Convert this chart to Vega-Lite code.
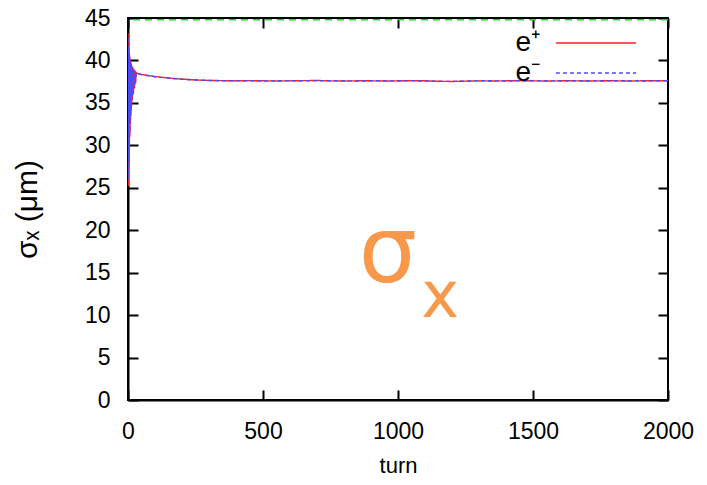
{
  "$schema": "https://vega.github.io/schema/vega-lite/v6.json",
  "width": 540,
  "height": 382,
  "autosize": "none",
  "padding": {"left": 128, "top": 18, "right": 39, "bottom": 85},
  "background": "white",
  "config": {
    "view": {"stroke": "black", "strokeWidth": 2},
    "font": "Liberation Sans",
    "axis": {
      "grid": false,
      "domainColor": "black",
      "domainWidth": 2,
      "tickColor": "black",
      "tickWidth": 2,
      "tickSize": -10,
      "labelFlush": false,
      "labelFont": "Liberation Sans",
      "labelFontSize": 23,
      "labelColor": "black",
      "titleFont": "Liberation Sans",
      "titleFontSize": 22,
      "titleFontWeight": "normal",
      "titleColor": "black"
    }
  },
  "datasets": {
    "sig": [
      {"turn": 0, "sigma": 43.2, "beam": "e⁺"},
      {"turn": 1, "sigma": 25.2, "beam": "e⁺"},
      {"turn": 2, "sigma": 41.8, "beam": "e⁺"},
      {"turn": 3, "sigma": 27.5, "beam": "e⁺"},
      {"turn": 4, "sigma": 41.0, "beam": "e⁺"},
      {"turn": 5, "sigma": 29.5, "beam": "e⁺"},
      {"turn": 6, "sigma": 40.6, "beam": "e⁺"},
      {"turn": 7, "sigma": 31.0, "beam": "e⁺"},
      {"turn": 8, "sigma": 40.2, "beam": "e⁺"},
      {"turn": 9, "sigma": 32.5, "beam": "e⁺"},
      {"turn": 10, "sigma": 39.9, "beam": "e⁺"},
      {"turn": 11, "sigma": 33.5, "beam": "e⁺"},
      {"turn": 12, "sigma": 39.6, "beam": "e⁺"},
      {"turn": 13, "sigma": 34.5, "beam": "e⁺"},
      {"turn": 14, "sigma": 39.4, "beam": "e⁺"},
      {"turn": 16, "sigma": 35.3, "beam": "e⁺"},
      {"turn": 18, "sigma": 39.2, "beam": "e⁺"},
      {"turn": 20, "sigma": 36.0, "beam": "e⁺"},
      {"turn": 22, "sigma": 39.0, "beam": "e⁺"},
      {"turn": 24, "sigma": 36.7, "beam": "e⁺"},
      {"turn": 26, "sigma": 38.8, "beam": "e⁺"},
      {"turn": 28, "sigma": 37.3, "beam": "e⁺"},
      {"turn": 30, "sigma": 38.6, "beam": "e⁺"},
      {"turn": 33, "sigma": 38.5, "beam": "e⁺"},
      {"turn": 40, "sigma": 38.4, "beam": "e⁺"},
      {"turn": 50, "sigma": 38.35, "beam": "e⁺"},
      {"turn": 70, "sigma": 38.25, "beam": "e⁺"},
      {"turn": 100, "sigma": 38.1, "beam": "e⁺"},
      {"turn": 130, "sigma": 38.0, "beam": "e⁺"},
      {"turn": 160, "sigma": 37.9, "beam": "e⁺"},
      {"turn": 200, "sigma": 37.8, "beam": "e⁺"},
      {"turn": 250, "sigma": 37.7, "beam": "e⁺"},
      {"turn": 300, "sigma": 37.65, "beam": "e⁺"},
      {"turn": 350, "sigma": 37.62, "beam": "e⁺"},
      {"turn": 400, "sigma": 37.6, "beam": "e⁺"},
      {"turn": 450, "sigma": 37.62, "beam": "e⁺"},
      {"turn": 500, "sigma": 37.6, "beam": "e⁺"},
      {"turn": 550, "sigma": 37.58, "beam": "e⁺"},
      {"turn": 600, "sigma": 37.6, "beam": "e⁺"},
      {"turn": 650, "sigma": 37.62, "beam": "e⁺"},
      {"turn": 700, "sigma": 37.64, "beam": "e⁺"},
      {"turn": 750, "sigma": 37.6, "beam": "e⁺"},
      {"turn": 800, "sigma": 37.58, "beam": "e⁺"},
      {"turn": 850, "sigma": 37.6, "beam": "e⁺"},
      {"turn": 900, "sigma": 37.6, "beam": "e⁺"},
      {"turn": 950, "sigma": 37.58, "beam": "e⁺"},
      {"turn": 1000, "sigma": 37.6, "beam": "e⁺"},
      {"turn": 1050, "sigma": 37.62, "beam": "e⁺"},
      {"turn": 1100, "sigma": 37.6, "beam": "e⁺"},
      {"turn": 1150, "sigma": 37.55, "beam": "e⁺"},
      {"turn": 1200, "sigma": 37.52, "beam": "e⁺"},
      {"turn": 1250, "sigma": 37.56, "beam": "e⁺"},
      {"turn": 1300, "sigma": 37.6, "beam": "e⁺"},
      {"turn": 1350, "sigma": 37.58, "beam": "e⁺"},
      {"turn": 1400, "sigma": 37.6, "beam": "e⁺"},
      {"turn": 1450, "sigma": 37.62, "beam": "e⁺"},
      {"turn": 1500, "sigma": 37.6, "beam": "e⁺"},
      {"turn": 1550, "sigma": 37.58, "beam": "e⁺"},
      {"turn": 1600, "sigma": 37.6, "beam": "e⁺"},
      {"turn": 1650, "sigma": 37.6, "beam": "e⁺"},
      {"turn": 1700, "sigma": 37.58, "beam": "e⁺"},
      {"turn": 1750, "sigma": 37.6, "beam": "e⁺"},
      {"turn": 1800, "sigma": 37.6, "beam": "e⁺"},
      {"turn": 1850, "sigma": 37.58, "beam": "e⁺"},
      {"turn": 1900, "sigma": 37.6, "beam": "e⁺"},
      {"turn": 1950, "sigma": 37.6, "beam": "e⁺"},
      {"turn": 2000, "sigma": 37.6, "beam": "e⁺"},
      {"turn": 0, "sigma": 42.6, "beam": "e⁻"},
      {"turn": 1, "sigma": 26.0, "beam": "e⁻"},
      {"turn": 2, "sigma": 41.5, "beam": "e⁻"},
      {"turn": 3, "sigma": 28.2, "beam": "e⁻"},
      {"turn": 4, "sigma": 40.8, "beam": "e⁻"},
      {"turn": 5, "sigma": 30.0, "beam": "e⁻"},
      {"turn": 6, "sigma": 40.4, "beam": "e⁻"},
      {"turn": 7, "sigma": 31.6, "beam": "e⁻"},
      {"turn": 8, "sigma": 40.0, "beam": "e⁻"},
      {"turn": 9, "sigma": 33.0, "beam": "e⁻"},
      {"turn": 10, "sigma": 39.8, "beam": "e⁻"},
      {"turn": 11, "sigma": 34.0, "beam": "e⁻"},
      {"turn": 12, "sigma": 39.5, "beam": "e⁻"},
      {"turn": 13, "sigma": 34.9, "beam": "e⁻"},
      {"turn": 14, "sigma": 39.3, "beam": "e⁻"},
      {"turn": 16, "sigma": 35.7, "beam": "e⁻"},
      {"turn": 18, "sigma": 39.1, "beam": "e⁻"},
      {"turn": 20, "sigma": 36.3, "beam": "e⁻"},
      {"turn": 22, "sigma": 38.9, "beam": "e⁻"},
      {"turn": 24, "sigma": 36.9, "beam": "e⁻"},
      {"turn": 26, "sigma": 38.7, "beam": "e⁻"},
      {"turn": 28, "sigma": 37.5, "beam": "e⁻"},
      {"turn": 30, "sigma": 38.55, "beam": "e⁻"},
      {"turn": 33, "sigma": 38.5, "beam": "e⁻"},
      {"turn": 40, "sigma": 38.4, "beam": "e⁻"},
      {"turn": 50, "sigma": 38.33, "beam": "e⁻"},
      {"turn": 70, "sigma": 38.22, "beam": "e⁻"},
      {"turn": 100, "sigma": 38.08, "beam": "e⁻"},
      {"turn": 130, "sigma": 37.98, "beam": "e⁻"},
      {"turn": 160, "sigma": 37.88, "beam": "e⁻"},
      {"turn": 200, "sigma": 37.78, "beam": "e⁻"},
      {"turn": 250, "sigma": 37.7, "beam": "e⁻"},
      {"turn": 300, "sigma": 37.64, "beam": "e⁻"},
      {"turn": 350, "sigma": 37.6, "beam": "e⁻"},
      {"turn": 400, "sigma": 37.62, "beam": "e⁻"},
      {"turn": 450, "sigma": 37.6, "beam": "e⁻"},
      {"turn": 500, "sigma": 37.58, "beam": "e⁻"},
      {"turn": 550, "sigma": 37.6, "beam": "e⁻"},
      {"turn": 600, "sigma": 37.62, "beam": "e⁻"},
      {"turn": 650, "sigma": 37.6, "beam": "e⁻"},
      {"turn": 700, "sigma": 37.62, "beam": "e⁻"},
      {"turn": 750, "sigma": 37.6, "beam": "e⁻"},
      {"turn": 800, "sigma": 37.6, "beam": "e⁻"},
      {"turn": 850, "sigma": 37.58, "beam": "e⁻"},
      {"turn": 900, "sigma": 37.6, "beam": "e⁻"},
      {"turn": 950, "sigma": 37.6, "beam": "e⁻"},
      {"turn": 1000, "sigma": 37.58, "beam": "e⁻"},
      {"turn": 1050, "sigma": 37.6, "beam": "e⁻"},
      {"turn": 1100, "sigma": 37.58, "beam": "e⁻"},
      {"turn": 1150, "sigma": 37.54, "beam": "e⁻"},
      {"turn": 1200, "sigma": 37.53, "beam": "e⁻"},
      {"turn": 1250, "sigma": 37.57, "beam": "e⁻"},
      {"turn": 1300, "sigma": 37.6, "beam": "e⁻"},
      {"turn": 1350, "sigma": 37.6, "beam": "e⁻"},
      {"turn": 1400, "sigma": 37.58, "beam": "e⁻"},
      {"turn": 1450, "sigma": 37.6, "beam": "e⁻"},
      {"turn": 1500, "sigma": 37.6, "beam": "e⁻"},
      {"turn": 1550, "sigma": 37.6, "beam": "e⁻"},
      {"turn": 1600, "sigma": 37.58, "beam": "e⁻"},
      {"turn": 1650, "sigma": 37.6, "beam": "e⁻"},
      {"turn": 1700, "sigma": 37.6, "beam": "e⁻"},
      {"turn": 1750, "sigma": 37.58, "beam": "e⁻"},
      {"turn": 1800, "sigma": 37.6, "beam": "e⁻"},
      {"turn": 1850, "sigma": 37.6, "beam": "e⁻"},
      {"turn": 1900, "sigma": 37.58, "beam": "e⁻"},
      {"turn": 1950, "sigma": 37.6, "beam": "e⁻"},
      {"turn": 2000, "sigma": 37.6, "beam": "e⁻"}
    ]
  },
  "layer": [
    {
      "data": {"values": [{"lim": 44.8}]},
      "mark": {"type": "rule", "color": "#33cc33", "strokeWidth": 1.5, "strokeDash": [7, 5]},
      "encoding": {
        "y": {"field": "lim", "type": "quantitative", "axis": null}
      }
    },
    {
      "data": {"name": "sig"},
      "mark": {"type": "line", "strokeWidth": 1.4, "clip": true},
      "encoding": {
        "x": {
          "field": "turn",
          "type": "quantitative",
          "scale": {"domain": [0, 2000], "nice": false, "zero": false},
          "axis": {"orient": "bottom", "values": [0, 500, 1000, 1500, 2000], "format": "d", "title": "turn", "labelPadding": 30, "titlePadding": 12}
        },
        "y": {
          "field": "sigma",
          "type": "quantitative",
          "scale": {"domain": [0, 45], "nice": false},
          "axis": {"orient": "left", "values": [0, 5, 10, 15, 20, 25, 30, 35, 40, 45], "title": "σₓ (μm)", "titleFontSize": 30, "labelPadding": 28, "titlePadding": 42}
        },
        "color": {
          "field": "beam",
          "type": "nominal",
          "scale": {"domain": ["e⁺", "e⁻"], "range": ["#ff2020", "#4a4aff"]},
          "legend": {
            "title": null,
            "orient": "none",
            "legendX": 452,
            "legendY": 9,
            "symbolType": "M-2.67,0H2.67",
            "symbolSize": 900,
            "symbolStrokeWidth": 1.5,
            "labelFontSize": 28,
            "labelFont": "Liberation Sans",
            "labelColor": "black",
            "labelAlign": "right",
            "labelOffset": -72,
            "rowPadding": 0
          }
        },
        "strokeDash": {
          "field": "beam",
          "type": "nominal",
          "scale": {"domain": ["e⁺", "e⁻"], "range": [[1, 0], [4, 3]]},
          "legend": {
            "title": null,
            "orient": "none",
            "legendX": 452,
            "legendY": 9,
            "symbolType": "M-2.67,0H2.67",
            "symbolSize": 900,
            "symbolStrokeWidth": 1.5,
            "labelFontSize": 28,
            "labelFont": "Liberation Sans",
            "labelColor": "black",
            "labelAlign": "right",
            "labelOffset": -72,
            "rowPadding": 0
          }
        }
      }
    },
    {
      "data": {"values": [{"t": "σ"}]},
      "mark": {"type": "text", "fontSize": 92, "color": "#f7984a", "font": "DejaVu Sans", "align": "center", "baseline": "middle"},
      "encoding": {
        "x": {
          "datum": 963,
          "type": "quantitative",
          "axis": {"orient": "top", "values": [0, 500, 1000, 1500, 2000], "labels": false, "title": null, "domain": false}
        },
        "y": {
          "datum": 17.2,
          "type": "quantitative",
          "axis": {"orient": "right", "values": [0, 5, 10, 15, 20, 25, 30, 35, 40, 45], "labels": false, "title": null, "domain": false}
        },
        "text": {"field": "t"}
      }
    },
    {
      "data": {"values": [{"t": "x"}]},
      "mark": {"type": "text", "fontSize": 64, "color": "#f7984a", "font": "DejaVu Sans", "align": "center", "baseline": "middle"},
      "encoding": {
        "x": {"datum": 1156, "type": "quantitative", "axis": null},
        "y": {"datum": 12.0, "type": "quantitative", "axis": null},
        "text": {"field": "t"}
      }
    }
  ],
  "resolve": {"axis": {"x": "independent", "y": "independent"}}
}
